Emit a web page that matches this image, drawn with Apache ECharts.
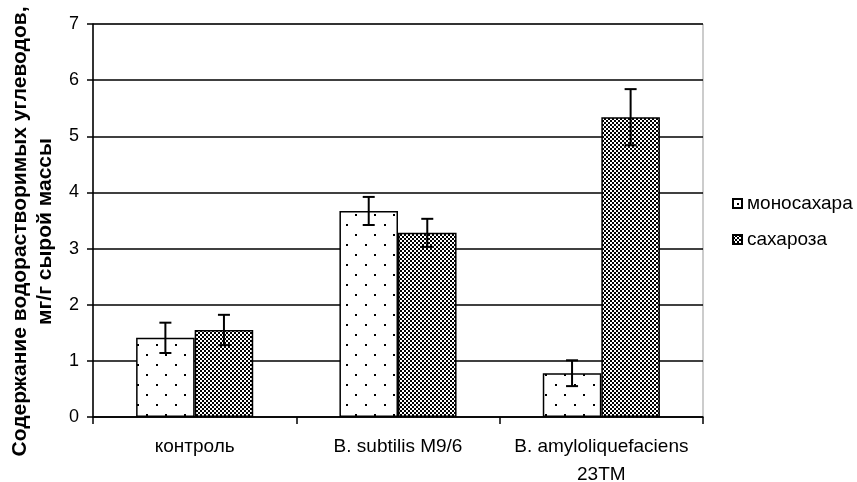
<!DOCTYPE html>
<html>
<head>
<meta charset="utf-8">
<script src="https://cdn.jsdelivr.net/npm/echarts@6/dist/echarts.min.js"></script>
<style>
  html, body { margin: 0; padding: 0; background: #fff; }
  #chart { width: 857px; height: 482px; }
</style>
</head>
<body>
<div id="chart"></div>
<script>
// Data
const categories = ['контроль', 'B. subtilis M9/6', 'B. amyloliquefaciens\n23TM'];
const seriesNames = ['моносахара', 'сахароза'];
const monoValues = [1.41, 3.67, 0.78];
const monoErrors = [0.27, 0.25, 0.23];
const sucroseValues = [1.55, 3.28, 5.34];
const sucroseErrors = [0.27, 0.25, 0.50];
const yTicks = [0, 1, 2, 3, 4, 5, 6, 7];

const FONT = 'Liberation Sans, Arial, sans-serif';

// Pattern fills
function dotPattern() {
    let c = document.createElement('canvas');
    c.width = 19; c.height = 20;
    let ctx = c.getContext('2d');
    ctx.fillStyle = '#fff';
    ctx.fillRect(0, 0, 19, 20);
    ctx.fillStyle = '#000';
    ctx.fillRect(4, 4, 2, 2);
    ctx.fillRect(13, 14, 2, 2);
    return c;
}
function checkPattern() {
    let c = document.createElement('canvas');
    c.width = 4; c.height = 4;
    let ctx = c.getContext('2d');
    ctx.fillStyle = '#000';
    ctx.fillRect(0, 0, 4, 4);
    ctx.fillStyle = '#fff';
    ctx.fillRect(0, 0, 2, 2);
    ctx.fillRect(2, 2, 2, 2);
    return c;
}

const BAR_PCT = 0.288;

// error bars drawn relative to bar centre
function errorRenderer(values, errors, side) {
    return function (params, api) {
        let i = api.value(0);
        let band = api.size([1, 0])[0];
        let offset = side * band * BAR_PCT / 2;
        let hi = api.coord([i, values[i] + errors[i]]);
        let lo = api.coord([i, values[i] - errors[i]]);
        let x = hi[0] + offset;
        let cap = 6;
        let style = { stroke: '#000', lineWidth: 2 };
        return {
            type: 'group',
            children: [
                { type: 'line', shape: { x1: x, y1: hi[1], x2: x, y2: lo[1] }, style: style },
                { type: 'line', shape: { x1: x - cap, y1: hi[1], x2: x + cap, y2: hi[1] }, style: style },
                { type: 'line', shape: { x1: x - cap, y1: lo[1], x2: x + cap, y2: lo[1] }, style: style }
            ]
        };
    };
}

let chart = echarts.init(document.getElementById('chart'));

let option = {
    animation: false,
    textStyle: { fontFamily: FONT, color: '#000' },
    grid: {
        left: 93, right: 154, top: 24, bottom: 65,
        outerBoundsMode: 'none',
        containLabel: false,
        show: true, borderColor: '#999', borderWidth: 1
    },
    legend: {
        orient: 'vertical',
        left: 732,
        top: 194,
        padding: 0,
        itemWidth: 9,
        itemHeight: 9,
        itemGap: 17,
        icon: 'rect',
        data: seriesNames,
        textStyle: { fontSize: 19, color: '#000', fontFamily: FONT }
    },
    xAxis: {
        type: 'category',
        data: categories,
        axisLine: { lineStyle: { color: '#000', width: 1.5 } },
        axisTick: { show: true, length: 7, lineStyle: { color: '#000', width: 1.5 } },
        axisLabel: { fontSize: 19, color: '#000', margin: 16, lineHeight: 28, interval: 0 }
    },
    yAxis: {
        type: 'value',
        min: yTicks[0],
        max: yTicks[yTicks.length - 1],
        interval: 1,
        name: 'Содержание водорастворимых углеводов,\nмг/г сырой массы',
        nameLocation: 'middle',
        nameGap: 35,
        nameTextStyle: {
            fontSize: 21, fontWeight: 'bold', color: '#000', lineHeight: 25,
            padding: [0, 22, 0, 0]
        },
        axisLine: { show: true, lineStyle: { color: '#000', width: 1.5 } },
        axisTick: { show: true, length: 6, lineStyle: { color: '#000', width: 1.5 } },
        axisLabel: { fontSize: 18, color: '#000', margin: 14 },
        splitLine: { lineStyle: { color: '#000', width: 1.5 } }
    },
    series: [
        {
            name: seriesNames[0],
            type: 'bar',
            data: monoValues,
            barWidth: (BAR_PCT * 100) + '%',
            barGap: '0%',
            itemStyle: {
                color: { image: dotPattern(), repeat: 'repeat' },
                borderColor: '#000',
                borderWidth: 1.5
            }
        },
        {
            name: seriesNames[1],
            type: 'bar',
            data: sucroseValues,
            barWidth: (BAR_PCT * 100) + '%',
            barGap: '0%',
            itemStyle: {
                color: { image: checkPattern(), repeat: 'repeat' },
                borderColor: '#000',
                borderWidth: 1.5
            }
        },
        {
            type: 'custom',
            renderItem: errorRenderer(monoValues, monoErrors, -1),
            data: categories.map((c, i) => [i]),
            z: 10
        },
        {
            type: 'custom',
            renderItem: errorRenderer(sucroseValues, sucroseErrors, 1),
            data: categories.map((c, i) => [i]),
            z: 10
        }
    ]
};

chart.setOption(option);
</script>
</body>
</html>
